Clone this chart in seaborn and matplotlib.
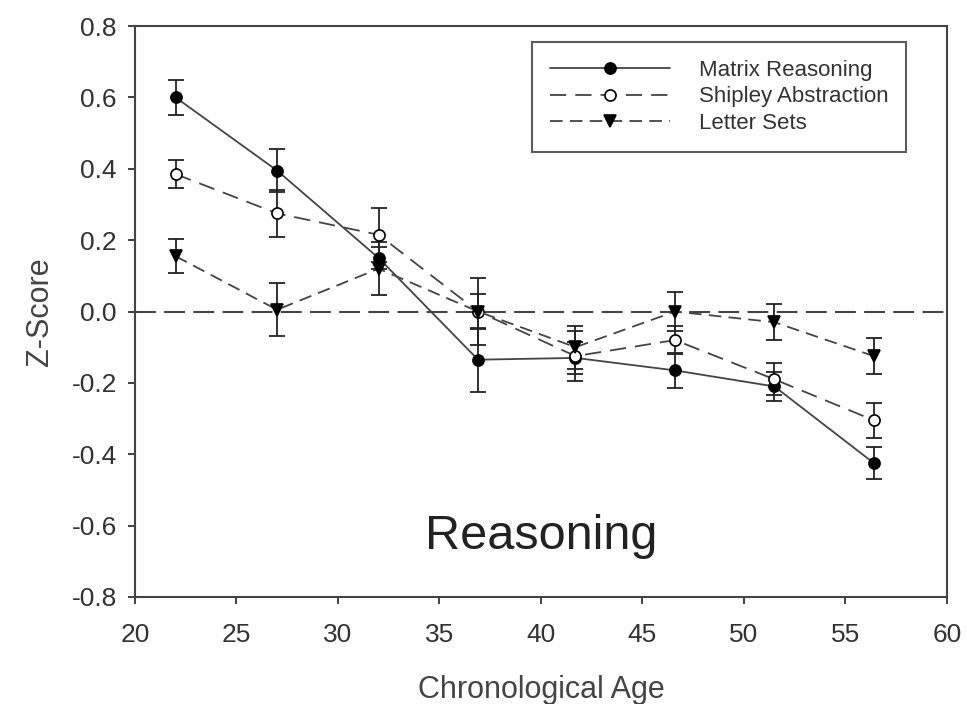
import matplotlib
matplotlib.use("Agg")
import matplotlib.pyplot as plt
import seaborn as sns
import pandas as pd

# возраст (середины групп) и средние Z-оценки
age = [22.0, 27.0, 32.0, 36.9, 41.7, 46.6, 51.5, 56.4]

matrix = [0.60, 0.395, 0.15, -0.135, -0.13, -0.165, -0.21, -0.425]
matrix_err = [0.05, 0.06, 0.03, 0.09, 0.045, 0.05, 0.04, 0.045]

shipley = [0.385, 0.275, 0.215, 0.0, -0.125, -0.08, -0.19, -0.305]
shipley_err = [0.04, 0.065, 0.075, 0.05, 0.07, 0.04, 0.045, 0.05]

letters = [0.155, 0.005, 0.12, 0.0, -0.10, 0.0, -0.03, -0.125]
letters_err = [0.048, 0.075, 0.075, 0.095, 0.06, 0.055, 0.05, 0.05]

series = [
    ("Matrix Reasoning", matrix, matrix_err, "o", "black", "-"),
    ("Shipley Abstraction", shipley, shipley_err, "o", "white", (0, (9, 5))),
    ("Letter Sets", letters, letters_err, "v", "black", (0, (7, 4))),
]

sns.set_style("white")
plt.rcParams["font.family"] = ["Liberation Sans", "DejaVu Sans"]

fig = plt.figure(figsize=(9.67, 7.04), dpi=100)
ax = fig.add_axes([0.1396, 0.152, 0.8397, 0.811])

# горизонтальная линия нуля
ax.axhline(0, color="#444444", lw=1.5, linestyle=(0, (10, 4)), zorder=1)

for name, vals, errs, mk, face, ls in series:
    df = pd.DataFrame({"age": age, "z": vals})
    ax.errorbar(age, vals, yerr=errs, fmt="none", ecolor="#222222",
                elinewidth=1.3, capsize=6, capthick=1.3, zorder=2)
    sns.lineplot(data=df, x="age", y="z", ax=ax, color="#444444", lw=1.3,
                 linestyle=ls, marker=mk, markersize=9 if mk == "v" else 8,
                 markerfacecolor=face, markeredgecolor="black",
                 markeredgewidth=1.2, label=name, zorder=3)

ax.set_xlim(20, 60)
ax.set_ylim(-0.8, 0.8)
ax.set_xticks(range(20, 61, 5))
ax.set_yticks([-0.8, -0.6, -0.4, -0.2, 0.0, 0.2, 0.4, 0.6, 0.8])
ax.set_yticklabels(["-0.8", "-0.6", "-0.4", "-0.2", "0.0", "0.2", "0.4", "0.6", "0.8"])
ax.tick_params(axis="both", direction="out", length=5, width=1.3,
               labelsize=19, colors="#333333", left=True, bottom=True, pad=8)
ax.tick_params(axis="x", pad=14)
for s in ax.spines.values():
    s.set_color("#444444")
    s.set_linewidth(1.5)

ax.set_xlabel("Chronological Age", fontsize=22, color="#444444", labelpad=20)
ax.set_ylabel("Z-Score", fontsize=22, color="#444444", labelpad=12)

ax.text(40.0, -0.63, "Reasoning", fontsize=35, color="#222222",
        ha="center", va="center")

leg = ax.legend(loc="upper right", bbox_to_anchor=(0.95, 0.972),
                borderaxespad=0, fontsize=16, handlelength=5.4,
                handletextpad=1.3, labelspacing=0.25, borderpad=0.8,
                fancybox=False, frameon=True)
leg.get_frame().set_edgecolor("#333333")
leg.get_frame().set_linewidth(1.5)
for t in leg.get_texts():
    t.set_color("#333333")

plt.savefig("out.png", dpi=100)
